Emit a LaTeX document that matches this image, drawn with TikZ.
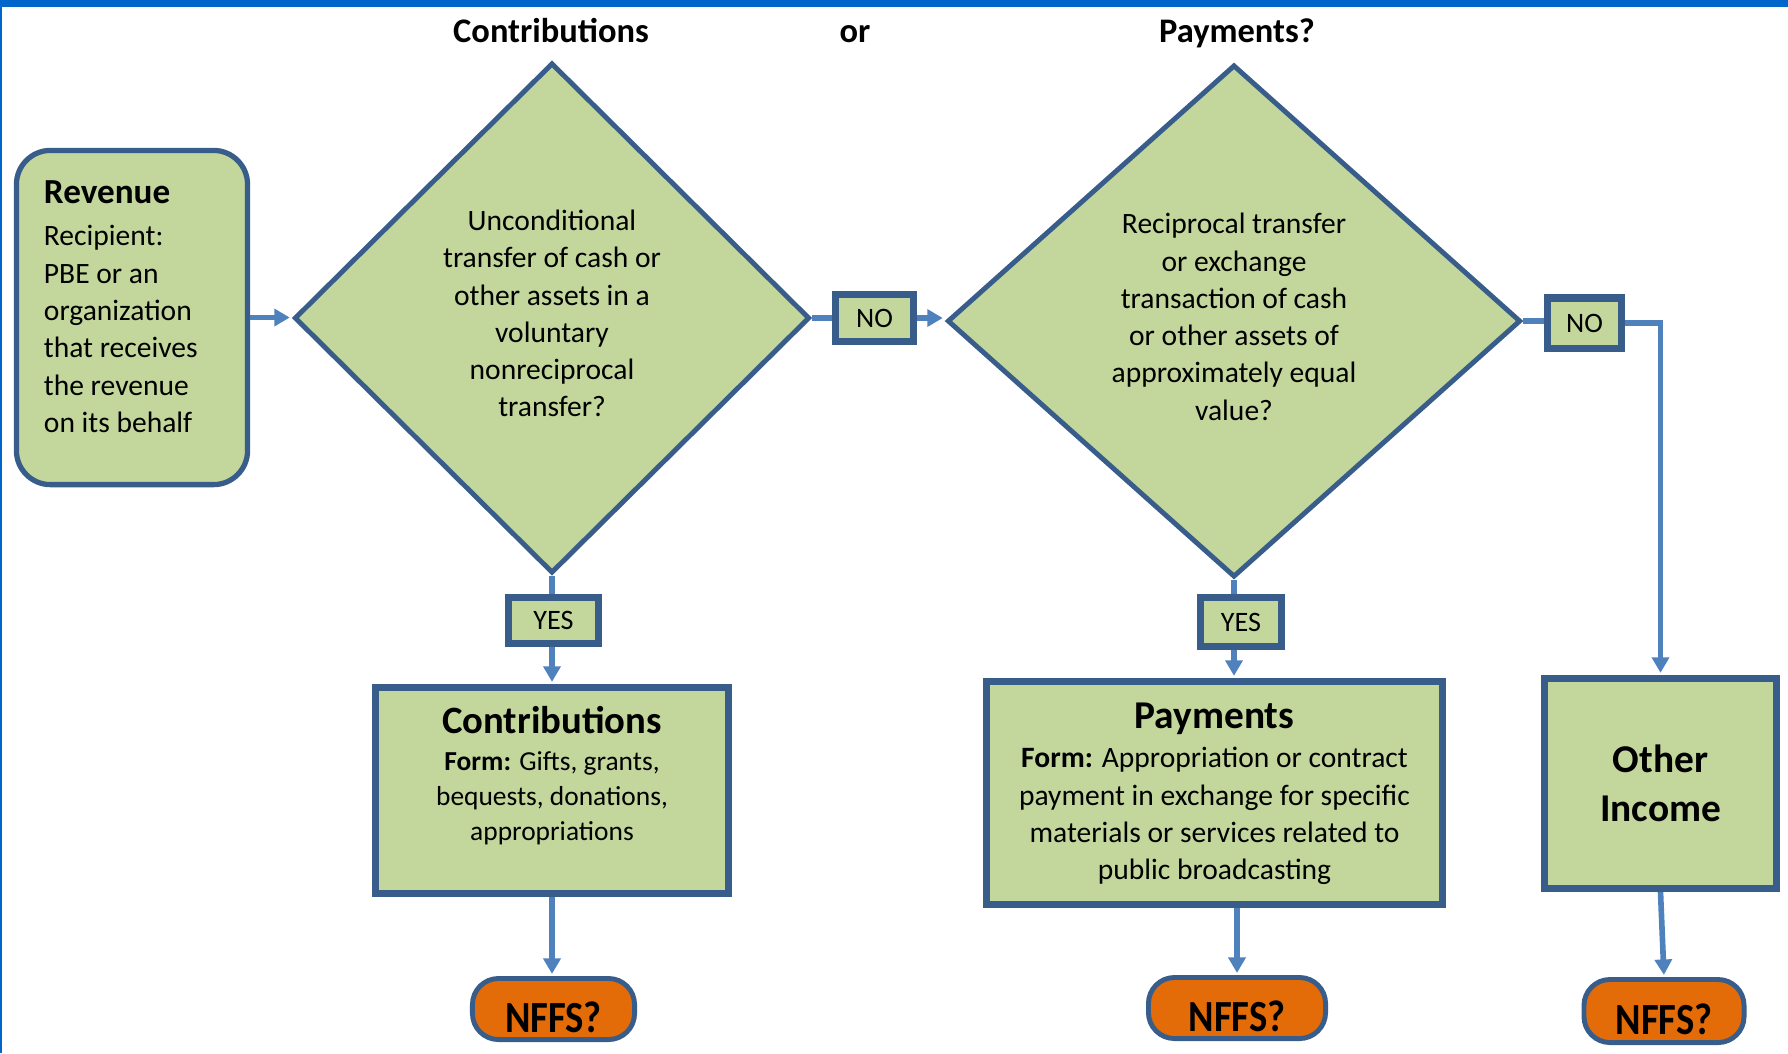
\documentclass[tikz,border=0pt]{standalone}
\usepackage{fontspec}
\setmainfont{Carlito}
\usetikzlibrary{shapes.geometric,arrows.meta}
\definecolor{boxgreen}{HTML}{C3D69B}
\definecolor{boxedge}{HTML}{385D8A}
\definecolor{linkblue}{HTML}{4F81BD}
\definecolor{nffsorange}{HTML}{E36C09}
\definecolor{framebar}{HTML}{0066CC}
\tikzset{
  heading/.style={anchor=base,font=\fontsize{9.8}{12}\selectfont\bfseries},
  startbox/.style={rectangle,rounded corners=0.34cm,draw=boxedge,fill=boxgreen,line width=1.5pt,inner sep=0pt,
    minimum width=2.31cm,minimum height=3.34cm,font=\fontsize{8.4}{10.6}\selectfont},
  question/.style={diamond,draw=boxedge,fill=boxgreen,line width=1.4pt,inner sep=0pt,align=center,
    font=\fontsize{8.4}{10.6}\selectfont},
  answer/.style={rectangle,draw=boxedge,fill=boxgreen,line width=2pt,inner sep=0pt,
    minimum width=0.78cm,minimum height=0.47cm,font=\fontsize{8}{10}\selectfont},
  outcome/.style={rectangle,draw=boxedge,fill=boxgreen,line width=2pt,inner sep=0pt,align=center},
  nffs/.style={rectangle,rounded corners=0.26cm,draw=boxedge,fill=nffsorange,line width=1.4pt,inner sep=0pt,
    minimum height=0.61cm,text height=13.4pt,text depth=0pt,font=\fontsize{11}{13}\selectfont\bfseries},
  link/.style={draw=linkblue,line width=1.6pt},
  arrowlink/.style={link,shorten >=0.6pt,-{Triangle[length=4.4pt,width=4.8pt]}}
}
\newcommand{\nffstext}{\scalebox{1}[1.15]{NFFS?}}
\begin{document}
\begin{tikzpicture}[x=0.01cm,y=-0.01cm]
  \useasboundingbox (0,0) rectangle (1788,1053);
  \fill[framebar] (0,0) rectangle (1788,7);
  \fill[framebar] (0,0) rectangle (2,1053);

  \node[heading] (hcontrib) at (551,42) {Contributions};
  \node[heading] (hor) at (855,42) {or};
  \node[heading] (hpay) at (1237,42) {Payments?};

  \node[startbox] (rev) at (132,317.5) {\parbox[c][2.73cm][t]{1.76cm}{\raggedright
    {\fontsize{10}{12}\selectfont\bfseries Revenue}\\[1.4pt]
    Recipient:\\ PBE or an\\ organization\\ that receives\\ the revenue\\ on its behalf}};

  \node[question,minimum width=5.15cm,minimum height=5.1cm] (q1) at (552,318)
    {Unconditional\\ transfer of cash or\\ other assets in a\\ voluntary\\ nonreciprocal\\ transfer?\rule[-2.6pt]{0pt}{0pt}};
  \node[question,minimum width=5.73cm,minimum height=5.12cm] (q2) at (1234,321)
    {Reciprocal transfer\\ or exchange\\ transaction of cash\\ or other assets of\\ approximately equal\\ value?\rule[-2.4pt]{0pt}{0pt}};

  \node[answer] (no1) at (874.5,318) {NO};
  \node[answer,minimum width=0.74cm,minimum height=0.5cm] (no2) at (1584.5,323) {NO};
  \node[answer,minimum width=0.9cm,minimum height=0.46cm] (yes1) at (553.5,620.5) {YES};
  \node[answer,minimum width=0.81cm,minimum height=0.49cm] (yes2) at (1241,622) {YES};

  \node[outcome,minimum width=3.53cm,minimum height=2.06cm] (contrib) at (552,790.5)
    {\parbox[c][1.69cm][t]{3.3cm}{\centering\fontsize{7.8}{9.9}\selectfont
    {\fontsize{11}{13}\selectfont\bfseries Contributions}\\[0.8pt]
    \textbf{Form:} Gifts, grants,\\ bequests, donations,\\ appropriations}};
  \node[outcome,minimum width=4.56cm,minimum height=2.23cm] (pay) at (1214.5,793)
    {\parbox[c][1.81cm][t]{4.3cm}{\centering\fontsize{8.4}{10.6}\selectfont
    {\fontsize{11.2}{13}\selectfont\bfseries Payments}\\[0.7pt]
    \textbf{Form:} Appropriation or contract\\ payment in exchange for specific\\
    materials or services related to\\ public broadcasting}};
  \node[outcome,minimum width=2.32cm,minimum height=2.1cm,font=\fontsize{11.2}{14}\selectfont\bfseries]
    (other) at (1660.5,783.5) {Other\\ Income};

  \node[nffs,minimum width=1.62cm] (nffs1) at (553.5,1009) {\nffstext};
  \node[nffs,minimum width=1.77cm] (nffs2) at (1237,1008) {\nffstext};
  \node[nffs,minimum width=1.6cm,minimum height=0.63cm] (nffs3) at (1664,1011) {\nffstext};

  \draw[arrowlink] (rev.east) -- (rev.east -| q1.west);
  \draw[link] (q1.east) -- (no1.west);
  \draw[arrowlink] (no1.east) -- (no1.east -| q2.west);
  \draw[link] (q2.east) -- (q2.east -| no2.west);
  \draw[arrowlink] (no2.east) -| (other.north);
  \draw[link] (q1.south) -- (q1.south |- yes1.north);
  \draw[arrowlink] (q1.south |- yes1.south) -- (q1.south |- contrib.north);
  \draw[arrowlink] (contrib.south) -- (contrib.south |- nffs1.north);
  \draw[link] (q2.south) -- (q2.south |- yes2.north);
  \draw[arrowlink] (q2.south |- yes2.south) -- (q2.south |- pay.north);
  \draw[arrowlink] (nffs2.north |- pay.south) -- (nffs2.north);
  \draw[arrowlink] (other.south) -- (nffs3.north);
\end{tikzpicture}
\end{document}
